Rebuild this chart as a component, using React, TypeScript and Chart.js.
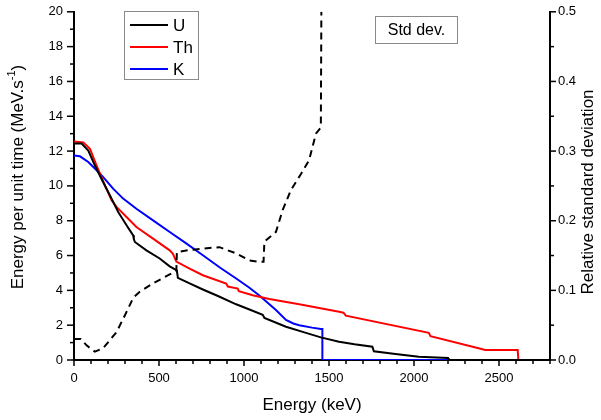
import React, { useEffect, useRef } from 'react';
import { Chart, registerables } from 'chart.js';

Chart.register(...registerables);

// ---- Data (energy in keV) ----
const uEnergy = [0, 45, 84, 123, 162, 211, 260, 309, 348, 352, 358, 426, 504, 563, 605, 611, 680, 758, 850, 954, 1032, 1110, 1120, 1247, 1350, 1452, 1559, 1650, 1755, 1764, 1891, 2028, 2200, 2204, 2800];
const uValue = [12.43, 12.43, 12.03, 11.17, 10.4, 9.46, 8.5, 7.74, 7.16, 6.95, 6.78, 6.3, 5.83, 5.38, 5.15, 4.72, 4.4, 4.05, 3.66, 3.2, 2.9, 2.6, 2.42, 1.91, 1.6, 1.3, 1.05, 0.9, 0.76, 0.5, 0.34, 0.19, 0.12, 0, 0];

const thEnergy = [0, 55, 94, 133, 182, 221, 250, 309, 367, 465, 563, 582, 590, 602, 680, 758, 895, 905, 963, 970, 1051, 1149, 1325, 1559, 1585, 1599, 2087, 2097, 2380, 2419, 2610, 2614, 2800];
const thValue = [12.55, 12.5, 12.13, 11.17, 10.03, 9.17, 8.79, 8.21, 7.64, 6.97, 6.3, 6.1, 5.92, 5.65, 5.25, 4.87, 4.39, 4.22, 4.1, 3.95, 3.72, 3.5, 3.2, 2.77, 2.72, 2.55, 1.56, 1.37, 0.67, 0.57, 0.57, 0, 0];

const kEnergy = [0, 35, 84, 133, 172, 230, 289, 367, 465, 563, 660, 758, 860, 954, 1032, 1090, 1188, 1247, 1290, 1325, 1400, 1452, 1461, 1461, 2800];
const kValue = [11.75, 11.7, 11.37, 10.9, 10.5, 9.84, 9.27, 8.69, 8.02, 7.35, 6.7, 6.02, 5.3, 4.68, 4.15, 3.7, 2.87, 2.3, 2.1, 2.0, 1.86, 1.78, 1.78, 0, 0];

const sdEnergy = [0, 40, 74, 123, 172, 250, 299, 350, 387, 465, 563, 602, 605, 680, 758, 856, 954, 1032, 1090, 1115, 1120, 1188, 1227, 1276, 1335, 1383, 1423, 1452, 1455];
const sdValue = [0.03, 0.03, 0.021, 0.012, 0.017, 0.04, 0.064, 0.09, 0.098, 0.11, 0.123, 0.127, 0.155, 0.158, 0.16, 0.162, 0.153, 0.143, 0.141, 0.141, 0.17, 0.184, 0.215, 0.244, 0.267, 0.287, 0.325, 0.334, 0.5];

const xTickLabels = [0, 500, 1000, 1500, 2000, 2500];
const legendNames = ['U', 'Th', 'K'];
const legendColors = ['#000000', '#ff0000', '#0000ff'];

const FONT = '"Liberation Sans", Arial, sans-serif';

const toPoints = (xs: number[], ys: number[]) => xs.map((x, i) => ({ x, y: ys[i] }));

const decorPlugin = {
  id: 'decor',
  afterDraw(chart: any) {
    const ctx: CanvasRenderingContext2D = chart.ctx;
    const { x, y, y2 } = chart.scales;
    ctx.save();
    ctx.strokeStyle = '#000';
    ctx.lineWidth = 1.5;
    // x ticks
    for (let v = 0; v <= 2800; v += 100) {
      const px = x.getPixelForValue(v);
      const len = v % 500 === 0 ? 6 : 4;
      ctx.beginPath();
      ctx.moveTo(px, x.top);
      ctx.lineTo(px, x.top + len);
      ctx.stroke();
    }
    // left y ticks
    for (let v = 0; v <= 20; v += 1) {
      const py = y.getPixelForValue(v);
      const len = v % 2 === 0 ? 7 : 4;
      ctx.beginPath();
      ctx.moveTo(y.right, py);
      ctx.lineTo(y.right - len, py);
      ctx.stroke();
    }
    // right ticks
    for (let i = 0; i <= 10; i++) {
      const py = y2.getPixelForValue(i * 0.05);
      const len = i % 2 === 0 ? 6 : 4;
      ctx.beginPath();
      ctx.moveTo(y2.left, py);
      ctx.lineTo(y2.left + len, py);
      ctx.stroke();
    }

    // Axis titles
    ctx.fillStyle = '#000';
    ctx.textBaseline = 'middle';
    ctx.font = `17px ${FONT}`;
    ctx.textAlign = 'center';
    ctx.fillText('Energy (keV)', (chart.chartArea.left + chart.chartArea.right) / 2, 405);
    // left with superscript
    ctx.save();
    ctx.translate(18, 177);
    ctx.rotate(-Math.PI / 2);
    const t1 = 'Energy per unit time (MeV.s';
    const t2 = '-1';
    const t3 = ')';
    ctx.font = `17px ${FONT}`;
    const w1 = ctx.measureText(t1).width;
    const w3 = ctx.measureText(t3).width;
    ctx.font = `11px ${FONT}`;
    const w2 = ctx.measureText(t2).width;
    const total = w1 + w2 + w3;
    ctx.textAlign = 'left';
    let sx = -total / 2;
    ctx.font = `17px ${FONT}`;
    ctx.fillText(t1, sx, 0);
    sx += w1;
    ctx.font = `11px ${FONT}`;
    ctx.fillText(t2, sx, -6);
    sx += w2;
    ctx.font = `17px ${FONT}`;
    ctx.fillText(t3, sx, 0);
    ctx.restore();
    // right
    ctx.save();
    ctx.translate(588, 192);
    ctx.rotate(-Math.PI / 2);
    ctx.textAlign = 'center';
    ctx.font = `17px ${FONT}`;
    ctx.fillText('Relative standard deviation', 0, 0);
    ctx.restore();

    // Legend box
    ctx.fillStyle = '#fff';
    ctx.fillRect(124.5, 11.5, 74, 68);
    ctx.strokeStyle = '#8a8a8a';
    ctx.lineWidth = 1;
    ctx.strokeRect(124.5, 11.5, 74, 68);
    ctx.font = `17px ${FONT}`;
    ctx.textAlign = 'left';
    legendNames.forEach((name, i) => {
      const ly = 25 + i * 22;
      ctx.strokeStyle = legendColors[i];
      ctx.lineWidth = 2;
      ctx.beginPath();
      ctx.moveTo(130, ly);
      ctx.lineTo(168, ly);
      ctx.stroke();
      ctx.fillStyle = '#000';
      ctx.fillText(name, 173, ly + 1);
    });

    // Std dev box
    ctx.fillStyle = '#fff';
    ctx.fillRect(375.5, 16.5, 82, 27);
    ctx.strokeStyle = '#8a8a8a';
    ctx.lineWidth = 1;
    ctx.strokeRect(375.5, 16.5, 82, 27);
    ctx.fillStyle = '#000';
    ctx.textAlign = 'center';
    ctx.font = `16px ${FONT}`;
    ctx.fillText('Std dev.', 416.5, 30.5);
    ctx.restore();
  },
};

export default function App() {
  const canvasRef = useRef<HTMLCanvasElement | null>(null);

  useEffect(() => {
    if (!canvasRef.current) return;
    const gridCommon = {
      display: true,
      drawOnChartArea: false,
      drawTicks: true,
      tickColor: 'rgba(0,0,0,0)',
    };
    const chart = new Chart(canvasRef.current, {
      type: 'line',
      data: {
        datasets: [
          {
            label: 'Std dev.',
            data: toPoints(sdEnergy, sdValue),
            yAxisID: 'y2',
            borderColor: '#000',
            borderWidth: 2,
            borderDash: [7, 5],
            pointRadius: 0,
            tension: 0,
          },
          {
            label: 'U',
            data: toPoints(uEnergy, uValue),
            yAxisID: 'y',
            borderColor: legendColors[0],
            borderWidth: 2,
            pointRadius: 0,
            tension: 0,
          },
          {
            label: 'Th',
            data: toPoints(thEnergy, thValue),
            yAxisID: 'y',
            borderColor: legendColors[1],
            borderWidth: 2,
            pointRadius: 0,
            tension: 0,
          },
          {
            label: 'K',
            data: toPoints(kEnergy, kValue),
            yAxisID: 'y',
            borderColor: legendColors[2],
            borderWidth: 2,
            pointRadius: 0,
            tension: 0,
          },
        ],
      },
      options: {
        animation: false,
        responsive: false,
        devicePixelRatio: 1,
        layout: { padding: { top: 11, left: 0, right: 0, bottom: 0 } },
        plugins: { legend: { display: false }, tooltip: { enabled: false } },
        scales: {
          x: {
            type: 'linear',
            min: 0,
            max: 2800,
            afterFit: (s: any) => { s.height = 60; },
            border: { display: true, color: '#000', width: 2 },
            grid: { ...gridCommon, tickLength: 6 },
            ticks: {
              stepSize: 100,
              autoSkip: false,
              maxRotation: 0,
              padding: 5,
              color: '#000',
              font: { family: FONT, size: 13 },
              callback: (v: any) => (xTickLabels.includes(Number(v)) ? String(v) : ''),
            },
          },
          y: {
            type: 'linear',
            position: 'left',
            min: 0,
            max: 20,
            afterFit: (s: any) => { s.width = 74; },
            border: { display: true, color: '#000', width: 2 },
            grid: { ...gridCommon, tickLength: 7 },
            ticks: {
              stepSize: 1,
              autoSkip: false,
              padding: 4,
              color: '#000',
              font: { family: FONT, size: 13 },
              callback: (v: any) => (Number(v) % 2 === 0 ? String(v) : ''),
            },
          },
          y2: {
            type: 'linear',
            position: 'right',
            min: 0,
            max: 0.5,
            afterFit: (s: any) => { s.width = 51; },
            border: { display: true, color: '#000', width: 2 },
            grid: { ...gridCommon, tickLength: 6 },
            ticks: {
              stepSize: 0.05,
              autoSkip: false,
              padding: 2,
              color: '#000',
              font: { family: FONT, size: 13 },
              callback: (v: any) => {
                const n = Math.round(Number(v) * 100);
                return n % 10 === 0 ? (n / 100).toFixed(1) : '';
              },
            },
          },
        },
      },
      plugins: [decorPlugin],
    } as any);
    return () => chart.destroy();
  }, []);

  return (
    <canvas
      ref={canvasRef}
      width={601}
      height={420}
      style={{ position: 'absolute', left: 0, top: 0, width: 601, height: 420 }}
    />
  );
}
